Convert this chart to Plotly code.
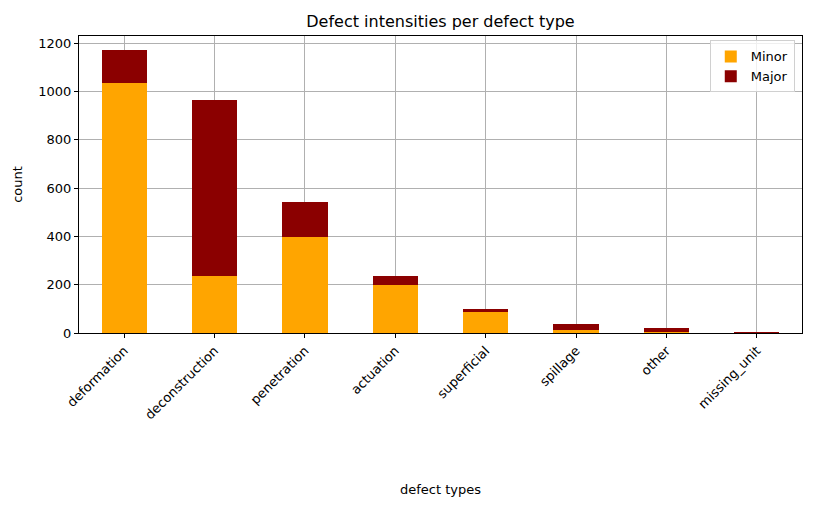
import plotly.graph_objects as go

categories = ["deformation", "deconstruction", "penetration", "actuation",
              "superficial", "spillage", "other", "missing_unit"]
minor = [1036, 236, 397, 199, 88, 12, 5, 0]
major = [135, 728, 145, 37, 10, 26, 17, 4]

fig = go.Figure()
fig.add_trace(go.Bar(x=categories, y=minor, name="Minor", marker_color="orange",
                     marker_line_width=0, width=0.5))
fig.add_trace(go.Bar(x=categories, y=major, name="Major", marker_color="darkred",
                     marker_line_width=0, width=0.5))

axis_common = dict(showline=True, linecolor="black", linewidth=1, mirror=True,
                   ticks="outside", ticklen=4, tickcolor="black",
                   showgrid=True, gridcolor="#b0b0b0", gridwidth=1,
                   layer="above traces", zeroline=False, tickfont=dict(size=13))

fig.update_layout(
    barmode="stack",
    width=806, height=500,
    margin=dict(l=71, r=12, t=28, b=175, autoexpand=False),
    paper_bgcolor="white", plot_bgcolor="white",
    font=dict(family="DejaVu Sans", size=13, color="black"),
    title=dict(text="Defect intensities per defect type", x=0.5, xanchor="center",
               xref="paper", y=0.974, yanchor="middle", font=dict(size=16)),
    xaxis=dict(axis_common, tickangle=-45, range=[-0.5, 7.5],
               title=dict(text="defect types", standoff=63, font=dict(size=13))),
    yaxis=dict(axis_common, range=[0, 1230], tickvals=[0, 200, 400, 600, 800, 1000, 1200],
               title=dict(text="count", standoff=12, font=dict(size=13))),
    legend=dict(x=0.99, y=0.985, xanchor="right", yanchor="top", traceorder="normal",
                bordercolor="#d0d0d0", borderwidth=1, bgcolor="rgba(255,255,255,0.8)",
                font=dict(size=13)),
    bargap=0.5,
)
fig.write_html("out.html")
